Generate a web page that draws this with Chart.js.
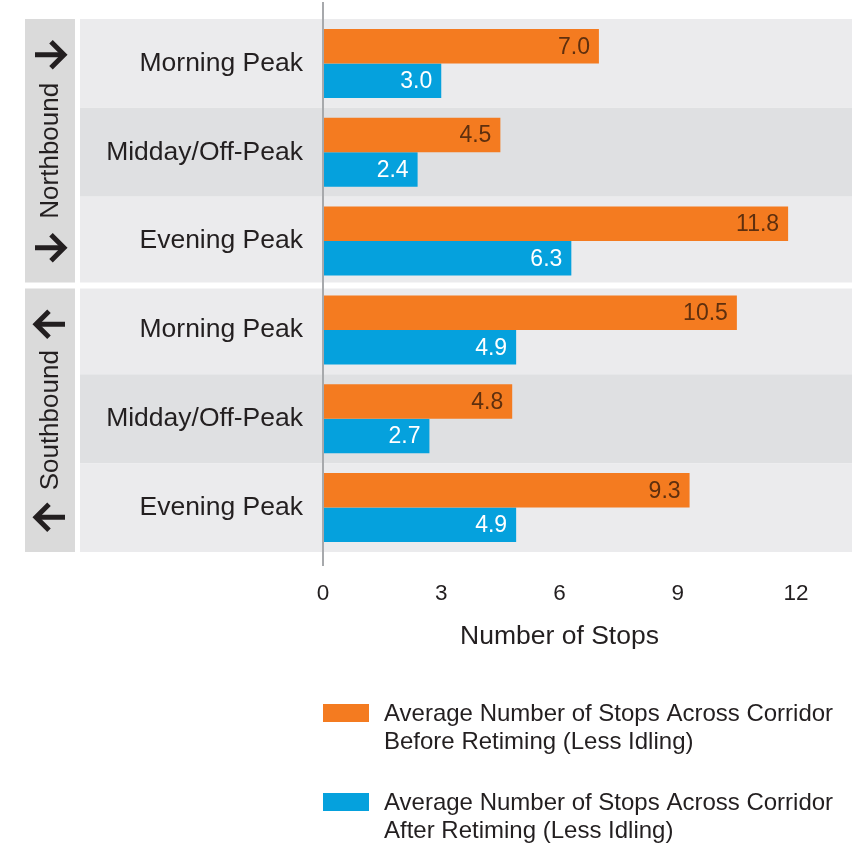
<!DOCTYPE html>
<html>
<head>
<meta charset="utf-8">
<script src="https://cdn.jsdelivr.net/npm/chart.js@4"></script>
<style>
  html, body { margin: 0; padding: 0; background: #fff; }
  #wrap { width: 866px; height: 845px; }
</style>
</head>
<body>
<div id="wrap"><canvas id="chart" width="866" height="845"></canvas></div>
<script>
// ── Data ──────────────────────────────────────────────────────────────────
const CATEGORIES = ['Morning Peak', 'Midday/Off-Peak', 'Evening Peak',
                    'Morning Peak', 'Midday/Off-Peak', 'Evening Peak'];
const BEFORE_RETIMING = [7.0, 4.5, 11.8, 10.5, 4.8, 9.3];
const AFTER_RETIMING  = [3.0, 2.4, 6.3, 4.9, 2.7, 4.9];
const GROUPS      = ['Northbound', 'Southbound'];
const GROUP_SIZE  = 3;
const GROUP_DIR   = [1, -1];            // arrow direction: right / left
const X_TICKS     = [0, 3, 6, 9, 12];
const SERIES_TEXT = [
  ['Average Number of Stops Across Corridor', 'Before Retiming (Less Idling)'],
  ['Average Number of Stops Across Corridor', 'After Retiming (Less Idling)'],
];

// ── Style ─────────────────────────────────────────────────────────────────
const FONT   = "'Liberation Sans', Arial, Helvetica, sans-serif";
const INK    = '#231f20';
const ORANGE = '#f47b20';
const BLUE   = '#05a1dd';
const ROW_LIGHT = '#ebebed';
const ROW_DARK  = '#dfe0e2';
const SIDE_BOX  = '#dadada';

function rowBounds(yScale, i) {
  const half = (yScale.getPixelForTick(1) - yScale.getPixelForTick(0)) / 2;
  const c = yScale.getPixelForTick(i);
  let top = c - half, bottom = c + half;
  // white gap between the two direction groups
  if (i % GROUP_SIZE === 0 && i > 0) top += 3;
  if (i % GROUP_SIZE === GROUP_SIZE - 1 && i < CATEGORIES.length - 1) bottom -= 3;
  return { top, bottom };
}

function drawArrow(ctx, x, y, dir) {
  ctx.save();
  ctx.strokeStyle = INK;
  ctx.lineWidth = 5;
  ctx.lineJoin = 'miter';
  ctx.beginPath();
  ctx.moveTo(x - 15 * dir, y);
  ctx.lineTo(x + 13 * dir, y);
  ctx.stroke();
  ctx.beginPath();
  ctx.moveTo(x + 1 * dir, y - 13);
  ctx.lineTo(x + 14 * dir, y);
  ctx.lineTo(x + 1 * dir, y + 13);
  ctx.stroke();
  ctx.restore();
}

// Row bands + direction boxes (drawn before scales so labels sit on top)
const backgroundPlugin = {
  id: 'rowBands',
  beforeDraw(chart) {
    const { ctx, chartArea } = chart;
    const y = chart.scales.y;
    const right = chartArea.right + 56;
    ctx.save();
    CATEGORIES.forEach((_, i) => {
      const b = rowBounds(y, i);
      ctx.fillStyle = (i % GROUP_SIZE === 1) ? ROW_DARK : ROW_LIGHT;
      ctx.fillRect(80, b.top, right - 80, b.bottom - b.top);
    });
    GROUPS.forEach((name, g) => {
      const top = rowBounds(y, g * GROUP_SIZE).top;
      const bottom = rowBounds(y, g * GROUP_SIZE + GROUP_SIZE - 1).bottom;
      const mid = (top + bottom) / 2;
      ctx.fillStyle = SIDE_BOX;
      ctx.fillRect(25, top, 50, bottom - top);
      ctx.save();
      ctx.translate(51, mid);
      ctx.rotate(-Math.PI / 2);
      ctx.fillStyle = INK;
      ctx.font = `26px ${FONT}`;
      ctx.textAlign = 'center';
      ctx.textBaseline = 'middle';
      ctx.fillText(name, 0, 0);
      ctx.restore();
      drawArrow(ctx, 50, mid - 96, GROUP_DIR[g]);
      drawArrow(ctx, 50, mid + 97, GROUP_DIR[g]);
    });
    ctx.restore();
  }
};

// Zero line + value labels inside bar ends + two-line legend
const overlayPlugin = {
  id: 'overlay',
  afterDatasetsDraw(chart) {
    const { ctx, chartArea } = chart;
    const x0 = chart.scales.x.getPixelForValue(0);
    ctx.save();
    ctx.strokeStyle = '#a7a9ac';
    ctx.lineWidth = 2;
    ctx.beginPath();
    ctx.moveTo(x0, chartArea.top - 17);
    ctx.lineTo(x0, chartArea.bottom + 14);
    ctx.stroke();

    ctx.font = `23px ${FONT}`;
    ctx.textAlign = 'right';
    ctx.textBaseline = 'middle';
    chart.data.datasets.forEach((ds, di) => {
      const meta = chart.getDatasetMeta(di);
      ctx.fillStyle = ds.valueColor;
      meta.data.forEach((bar, i) => {
        ctx.fillText(ds.data[i].toFixed(1), bar.x - 9, bar.y + 1);
      });
    });
    ctx.restore();
  },
  afterDraw(chart) {
    const { ctx, chartArea } = chart;
    const left = chartArea.left;
    const tops = [chartArea.bottom + 152, chartArea.bottom + 241];
    ctx.save();
    ctx.font = `24px ${FONT}`;
    ctx.textAlign = 'left';
    ctx.textBaseline = 'middle';
    chart.data.datasets.forEach((ds, di) => {
      const t = tops[di];
      ctx.fillStyle = ds.backgroundColor;
      ctx.fillRect(left, t, 46, 18);
      ctx.fillStyle = INK;
      SERIES_TEXT[di].forEach((line, li) => {
        ctx.fillText(line, left + 61, t + 10 + li * 28);
      });
    });
    ctx.restore();
  }
};

new Chart(document.getElementById('chart').getContext('2d'), {
  type: 'bar',
  data: {
    labels: CATEGORIES,
    datasets: [
      {
        label: SERIES_TEXT[0].join(' '),
        data: BEFORE_RETIMING,
        backgroundColor: ORANGE,
        valueColor: '#5e2f0e',
        categoryPercentage: 0.777,
        barPercentage: 1.0,
      },
      {
        label: SERIES_TEXT[1].join(' '),
        data: AFTER_RETIMING,
        backgroundColor: BLUE,
        valueColor: '#ffffff',
        categoryPercentage: 0.777,
        barPercentage: 1.0,
      },
    ]
  },
  options: {
    indexAxis: 'y',
    responsive: false,
    animation: false,
    devicePixelRatio: 1,
    layout: { padding: { left: 0, right: 70, top: 19, bottom: 183 } },
    plugins: {
      legend: { display: false },
      tooltip: { enabled: false },
    },
    scales: {
      x: {
        min: 0,
        max: 12,
        afterBuildTicks: scale => { scale.ticks = X_TICKS.map(v => ({ value: v })); },
        afterFit: scale => { scale.height = 110; },
        grid: { display: false, drawTicks: false },
        border: { display: false },
        ticks: {
          color: INK,
          font: { family: FONT, size: 22.5 },
          padding: 28,
          maxRotation: 0,
        },
        title: {
          display: true,
          text: 'Number of Stops',
          color: INK,
          font: { family: FONT, size: 26.5 },
          padding: { top: 0, bottom: 9 },
        }
      },
      y: {
        afterFit: scale => {
          scale.width = 323;
          scale.paddingTop = 0;
          scale.paddingBottom = 0;
        },
        grid: { display: false, drawTicks: false },
        border: { display: false },
        ticks: {
          color: INK,
          font: { family: FONT, size: 26.5 },
          padding: 20,
          autoSkip: false,
        }
      }
    }
  },
  plugins: [backgroundPlugin, overlayPlugin]
});
</script>
</body>
</html>
